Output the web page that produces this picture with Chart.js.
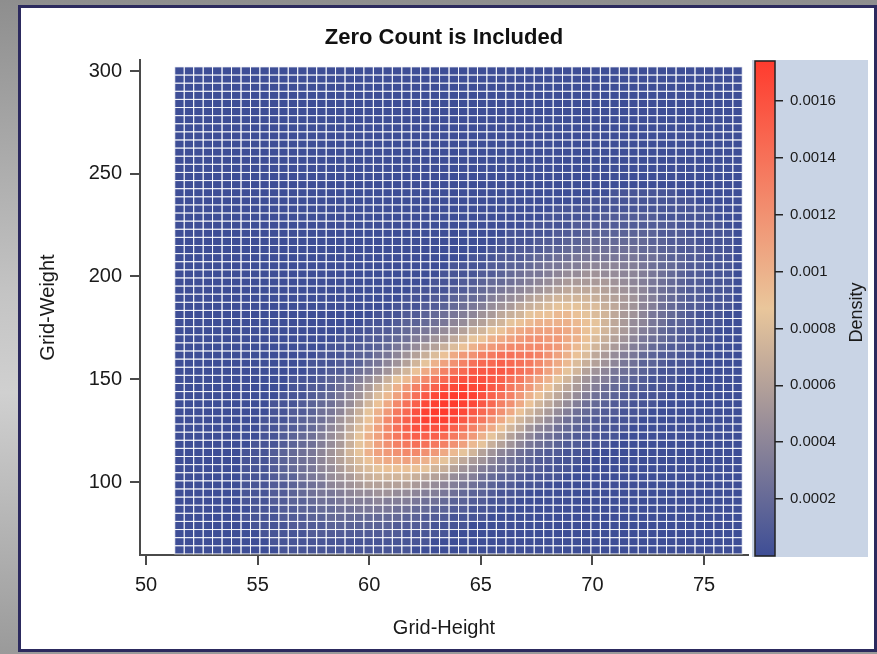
<!DOCTYPE html>
<html lang="en">
<head>
<meta charset="UTF-8" />
<title>Zero Count is Included</title>
<script src="https://cdn.jsdelivr.net/npm/chart.js"></script>
<style>
  html, body { margin: 0; padding: 0; }
  body {
    width: 877px;
    height: 654px;
    overflow: hidden;
    position: relative;
    background: linear-gradient(to bottom, #8e8e8e 0%, #c4c4c4 45%, #d0d0d0 60%, #9a9a9a 100%);
  }
  .panel {
    position: absolute;
    left: 18px;
    top: 5px;
    width: 853px;
    height: 641px;
    background: #fff;
    border: 3px solid #2c2a5e;
  }
  #heat { position: absolute; left: 0; top: 0; }
  #legend { position: absolute; left: 740px; top: 0; }
</style>
</head>
<body>
<div class="panel"></div>
<canvas id="heat" width="877" height="654"></canvas>
<canvas id="legend" width="137" height="654"></canvas>

<script>
  // ---- data ----
  const chartTitle = 'Zero Count is Included';

  // grid points of the heat map (cell centres)
  const heightGrid = [51.50, 51.92, 52.35, 52.77, 53.19, 53.62, 54.04, 54.47, 54.89, 55.31,
                      55.74, 56.16, 56.58, 57.01, 57.43, 57.86, 58.28, 58.70, 59.13, 59.55,
                      59.97, 60.40, 60.82, 61.25, 61.67, 62.09, 62.52, 62.94, 63.36, 63.79,
                      64.21, 64.64, 65.06, 65.48, 65.91, 66.33, 66.75, 67.18, 67.60, 68.03,
                      68.45, 68.87, 69.30, 69.72, 70.14, 70.57, 70.99, 71.42, 71.84, 72.26,
                      72.69, 73.11, 73.53, 73.96, 74.38, 74.81, 75.23, 75.65, 76.08, 76.50];
  const weightGrid = [67.00, 70.95, 74.90, 78.85, 82.80, 86.75, 90.69, 94.64, 98.59, 102.54,
                      106.49, 110.44, 114.39, 118.34, 122.29, 126.24, 130.19, 134.14, 138.08, 142.03,
                      145.98, 149.93, 153.88, 157.83, 161.78, 165.73, 169.68, 173.63, 177.58, 181.53,
                      185.47, 189.42, 193.37, 197.32, 201.27, 205.22, 209.17, 213.12, 217.07, 221.02,
                      224.97, 228.92, 232.86, 236.81, 240.76, 244.71, 248.66, 252.61, 256.56, 260.51,
                      264.46, 268.41, 272.36, 276.31, 280.25, 284.20, 288.15, 292.10, 296.05, 300.00];

  const heightTicks = [50, 55, 60, 65, 70, 75];
  const weightTicks = [100, 150, 200, 250, 300];
  const densityTicks = [0.0002, 0.0004, 0.0006, 0.0008, 0.001, 0.0012, 0.0014, 0.0016];
  const densityTickLabels = ['0.0002', '0.0004', '0.0006', '0.0008', '0.001', '0.0012', '0.0014', '0.0016'];
  const densityRange = [0, 0.00174];

  // one entry per weight row, bottom to top: [first height column, density per cell]
  // each character is the density in steps of 0.00005 (0-9 then a-z), cells not listed are 0
  const densityStep = 0.00005;
  const densityRows = [
    [11, '11111111111111'],
    [10, '11111111111111111'],
    [9, '11111222222222211111'],
    [8, '11112222333333322221111'],
    [7, '11112223344444444332221111'],
    [8, '11122334455666655443322111'],
    [7, '11122334556777877765543322111'],
    [7, '11122345667899aa99877654332111'],
    [7, '11122345689abcccccba987654322111'],
    [7, '1112335679abdeffffedcb987543321111'],
    [7, '1112345689bdfghiiiihfeca97654322111'],
    [7, '111234568acegikllmlkjhfdba8654322111'],
    [7, '111234568acfhkmnopponljhfca8754322111'],
    [8, '111234579behjmoqrssrqomjheca8654322111'],
    [9, '11234579behkmprtuuutrpnkhfca8654322111'],
    [9, '11223468adgjmpsuwwwwusqnlifda8754322111'],
    [9, '11123457acfilpsuwyyyxvtrolifdb9754322111'],
    [10, '11223568behknrtwyzzyxvtrolifdb9754322111'],
    [10, '111234579cfilpsuxyzzyxvtqolifdb9754322111'],
    [11, '11123468adgjmpsvxyzzywusqnkifdb9754322111'],
    [12, '11223569begknqsuwxyxxvurpnkifdb9754322111'],
    [12, '111234579behjmprtvwwwvusromkhfca875432111'],
    [14, '11223568adfilnqstvvvvusrpmkhfca865432111'],
    [14, '111223568acfhkmoqsttutsrpnljgeca865332111'],
    [15, '111233568acegilnoqrssrrqomkigdb976432211'],
    [16, '1112234679bcegikmnopppponljhfdb976432211'],
    [17, '1112234578abdfhiklmnoonnlkigeca865432111'],
    [18, '11122345679acefhiklmmmmlkihfdb976432211'],
    [20, '11123345689bcefhijkkkkjihfdb9865332111'],
    [21, '11122345678abdefhiijjihgfdba865432111'],
    [23, '11122345679abdefghhhggedba8754322111'],
    [24, '111223445789acdeffffedcba8754322111'],
    [25, '1111223456789abcddddcba98654322111'],
    [27, '1112234456789abbbbba987654322111'],
    [28, '111122345667899aa99887654322111'],
    [29, '111122334566778888776544322111'],
    [31, '1112223445566666665543322111'],
    [33, '11122233445555554433222111'],
    [34, '1111222334444444332221111'],
    [35, '111112223333333322211111'],
    [37, '111112222222222211111'],
    [39, '111111222222111111'],
    [40, '11111111111111111'],
    [43, '111111111111'],
    [46, '1111111'],
    [0, ''], [0, ''], [0, ''], [0, ''], [0, ''], [0, ''], [0, ''], [0, ''],
    [0, ''], [0, ''], [0, ''], [0, ''], [0, ''], [0, ''], [0, '']
  ];

  // ---- build the cells ----
  const cells = [];
  densityRows.forEach(([start, levels], j) => {
    const row = new Array(heightGrid.length).fill(0);
    [...levels].forEach((ch, k) => { row[start + k] = parseInt(ch, 36); });
    row.forEach((lv, i) => cells.push({ x: heightGrid[i], y: weightGrid[j], v: lv * densityStep }));
  });
  const cellW = heightGrid[1] - heightGrid[0];
  const cellH = weightGrid[1] - weightGrid[0];

  // three colour ramp: blue - tan - red
  const rampStops = [[0, [62, 78, 150]], [0.5, [233, 198, 155]], [1, [255, 59, 46]]];
  function rampColor(v) {
    let t = (v - densityRange[0]) / (densityRange[1] - densityRange[0]);
    t = Math.max(0, Math.min(1, t));
    const k = t <= 0.5 ? 0 : 1;
    const [t0, c0] = rampStops[k];
    const [t1, c1] = rampStops[k + 1];
    const f = (t - t0) / (t1 - t0);
    return 'rgb(' + c0.map((c, n) => Math.round(c + (c1[n] - c) * f)).join(',') + ')';
  }

  const FONT = "'Liberation Sans', Arial, Helvetica, sans-serif";
  Chart.defaults.font.family = FONT;
  Chart.defaults.color = '#1a1a1a';

  const heatCells = {
    id: 'heatCells',
    beforeDatasetsDraw(chart) {
      const { ctx, chartArea, scales: { x, y } } = chart;
      const data = chart.data.datasets[0].data;
      ctx.save();
      ctx.beginPath();
      ctx.rect(chartArea.left, chartArea.top, chartArea.width, chartArea.height);
      ctx.clip();
      const rects = data.map(c => {
        const x0 = x.getPixelForValue(c.x - cellW / 2);
        const x1 = x.getPixelForValue(c.x + cellW / 2);
        const y0 = y.getPixelForValue(c.y + cellH / 2);
        const y1 = y.getPixelForValue(c.y - cellH / 2);
        return [x0, y0, x1 - x0, y1 - y0, c.v];
      });
      rects.forEach(r => {
        ctx.fillStyle = rampColor(r[4]);
        ctx.fillRect(r[0], r[1], r[2], r[3]);
      });
      ctx.strokeStyle = 'rgba(255,255,255,0.75)';
      ctx.lineWidth = 1;
      rects.forEach(r => ctx.strokeRect(r[0], r[1], r[2], r[3]));
      ctx.restore();
    },
    afterDraw(chart) {
      const { ctx, chartArea } = chart;
      ctx.save();
      ctx.font = 'bold 22px ' + FONT;
      ctx.fillStyle = '#111';
      ctx.textAlign = 'center';
      ctx.textBaseline = 'middle';
      ctx.fillText(chartTitle, (chartArea.left + chartArea.right) / 2, 38);
      ctx.restore();
    }
  };

  const axisCommon = {
    grid: { display: true, drawOnChartArea: false, drawTicks: true, tickLength: 10, color: '#4a4a4a', lineWidth: 2 },
    border: { display: true, color: '#4a4a4a', width: 2 }
  };

  new Chart(document.getElementById('heat'), {
    type: 'scatter',
    data: {
      datasets: [{
        label: 'Density',
        data: cells,
        pointRadius: 0,
        pointHoverRadius: 0,
        showLine: false
      }]
    },
    options: {
      responsive: false,
      animation: false,
      events: [],
      layout: { padding: { left: 26, right: 129, top: 60, bottom: 4 } },
      plugins: { legend: { display: false }, tooltip: { enabled: false } },
      scales: {
        x: {
          type: 'linear',
          min: 49.73,
          max: 76.97,
          afterBuildTicks: s => { s.ticks = heightTicks.map(v => ({ value: v })); },
          afterFit: s => { s.height = 95; },
          ticks: { font: { size: 20 }, color: '#1a1a1a', padding: 8, maxRotation: 0, callback: v => String(v) },
          title: { display: true, text: 'Grid-Height', font: { size: 20 }, color: '#1a1a1a', padding: { top: 4, bottom: 10 } },
          ...axisCommon
        },
        y: {
          type: 'linear',
          min: 64.48,
          max: 305.35,
          afterBuildTicks: s => { s.ticks = weightTicks.map(v => ({ value: v })); },
          afterFit: s => { s.width = 114; },
          ticks: { font: { size: 20 }, color: '#1a1a1a', padding: 8, callback: v => String(v) },
          title: { display: true, text: 'Grid-Weight', font: { size: 20 }, color: '#1a1a1a', padding: { top: 10, bottom: 0 } },
          ...axisCommon
        }
      }
    },
    plugins: [heatCells]
  });

  // ---- colour bar ----
  const colorBar = {
    id: 'colorBar',
    beforeDraw(chart) {
      const { ctx } = chart;
      ctx.save();
      ctx.fillStyle = '#c9d4e5';
      ctx.fillRect(12, 60, 116, 497);
      ctx.restore();
    },
    beforeDatasetsDraw(chart) {
      const { ctx, chartArea: a, scales: { y } } = chart;
      const g = ctx.createLinearGradient(0, y.getPixelForValue(densityRange[0]), 0, y.getPixelForValue(densityRange[1]));
      rampStops.forEach(([t, c]) => g.addColorStop(t, 'rgb(' + c.join(',') + ')'));
      ctx.save();
      ctx.fillStyle = g;
      ctx.fillRect(a.left, a.top, a.width, a.height);
      ctx.strokeStyle = '#222';
      ctx.lineWidth = 1.5;
      ctx.strokeRect(a.left, a.top, a.width, a.height);
      ctx.restore();
    },
    afterDraw(chart) {
      const { ctx, chartArea: a } = chart;
      ctx.save();
      ctx.translate(117, (a.top + a.bottom) / 2 + 4);
      ctx.rotate(-Math.PI / 2);
      ctx.font = '18px ' + FONT;
      ctx.fillStyle = '#1a1a1a';
      ctx.textAlign = 'center';
      ctx.textBaseline = 'middle';
      ctx.fillText('Density', 0, 0);
      ctx.restore();
    }
  };

  new Chart(document.getElementById('legend'), {
    type: 'scatter',
    data: { datasets: [] },
    options: {
      responsive: false,
      animation: false,
      events: [],
      layout: { padding: { left: 15, right: 0, top: 61, bottom: 98 } },
      plugins: { legend: { display: false }, tooltip: { enabled: false } },
      scales: {
        x: { display: false },
        y: {
          type: 'linear',
          position: 'right',
          min: densityRange[0],
          max: densityRange[1],
          afterBuildTicks: s => { s.ticks = densityTicks.map(v => ({ value: v })); },
          afterFit: s => { s.width = 102; },
          ticks: { font: { size: 15 }, color: '#1a1a1a', padding: 7, callback: (v, i) => densityTickLabels[i] },
          grid: { display: true, drawOnChartArea: false, drawTicks: true, tickLength: 8, color: '#222', lineWidth: 1.5 },
          border: { display: false }
        }
      }
    },
    plugins: [colorBar]
  });
</script>
</body>
</html>
